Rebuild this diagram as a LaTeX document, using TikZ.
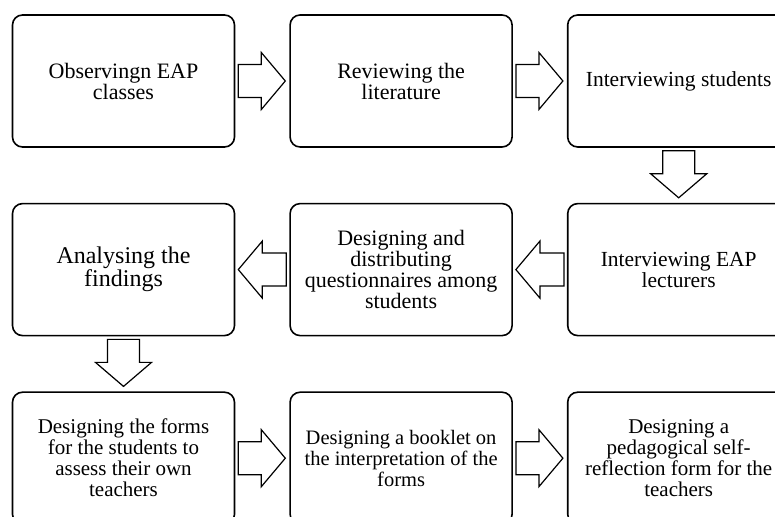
\documentclass[tikz,border=0pt]{standalone}
\usepackage{fontspec}
\setmainfont{Liberation Serif}
\usetikzlibrary{calc,positioning}
\tikzset{
  stage/.style={
    rectangle,
    rounded corners=10pt,
    draw=black, line width=1.6pt,
    minimum width=222pt,
    minimum height=132pt,
    align=center,
    font=\fontsize{22}{21}\selectfont},
  fatarrow/.style={draw=black, fill=white, line width=1.2pt, line join=miter},
}
\begin{document}
\begin{tikzpicture}[x=1pt, y=1pt, node distance=55pt and 54pt]
    \path[use as bounding box, fill=white] (0,0) rectangle (775,516);
    \clip (0,0) rectangle (775,516);

    \node[stage] (observe) at (123.5,435) {Observingn EAP\\classes};
    \node[stage, right=of observe] (review) {Reviewing the\\literature};
    \node[stage, right=of review, font=\fontsize{21.5}{21}\selectfont] (intstud) {Interviewing students};

    \node[stage, below=of intstud, font=\fontsize{21.5}{21}\selectfont] (intlect) {Interviewing EAP\\lecturers};
    \node[stage, left=of intlect] (quest) {Designing and\\distributing\\questionnaires among\\students};
    \node[stage, left=of quest, font=\fontsize{24}{22}\selectfont] (analyse) {Analysing the\\findings};

    \node[stage, below=of analyse, font=\fontsize{21}{21}\selectfont] (forms) {Designing the forms\\for the students to\\assess their own\\teachers};
    \node[stage, right=of forms, font=\fontsize{20.5}{21}\selectfont] (booklet) {Designing a booklet on\\the interpretation of the\\forms};
    \node[stage, right=of booklet, font=\fontsize{21}{21}\selectfont] (selfref) {Designing a\\pedagogical self-\\reflection form for the\\teachers};

    \path[fatarrow] ($(observe.east)+(3,16.5)$) -- ++(23,0) -- ++(0,12) -- ++(24,-28.5) -- ++(-24,-28.5) -- ++(0,12) -- ++(-23,0) -- cycle;
    \path[fatarrow] ($(review.east)+(3,16.5)$) -- ++(23,0) -- ++(0,12) -- ++(24,-28.5) -- ++(-24,-28.5) -- ++(0,12) -- ++(-23,0) -- cycle;
    \path[fatarrow] ($(intstud.south)+(-16,-3)$) -- ++(0,-23) -- ++(-12,0) -- ++(28,-24) -- ++(28,24) -- ++(-12,0) -- ++(0,23) -- cycle;
    \path[fatarrow] ($(intlect.west)+(-3,16.5)$) -- ++(-24,0) -- ++(0,12) -- ++(-24,-28.5) -- ++(24,-28.5) -- ++(0,12) -- ++(24,0) -- cycle;
    \path[fatarrow] ($(quest.west)+(-3,16.5)$) -- ++(-24,0) -- ++(0,12) -- ++(-24,-28.5) -- ++(24,-28.5) -- ++(0,12) -- ++(24,0) -- cycle;
    \path[fatarrow] ($(analyse.south)+(-16,-3)$) -- ++(0,-23) -- ++(-12,0) -- ++(28,-24) -- ++(28,24) -- ++(-12,0) -- ++(0,23) -- cycle;
    \path[fatarrow] ($(forms.east)+(3,16.5)$) -- ++(23,0) -- ++(0,12) -- ++(24,-28.5) -- ++(-24,-28.5) -- ++(0,12) -- ++(-23,0) -- cycle;
    \path[fatarrow] ($(booklet.east)+(3,16.5)$) -- ++(23,0) -- ++(0,12) -- ++(24,-28.5) -- ++(-24,-28.5) -- ++(0,12) -- ++(-23,0) -- cycle;

\end{tikzpicture}
\end{document}
